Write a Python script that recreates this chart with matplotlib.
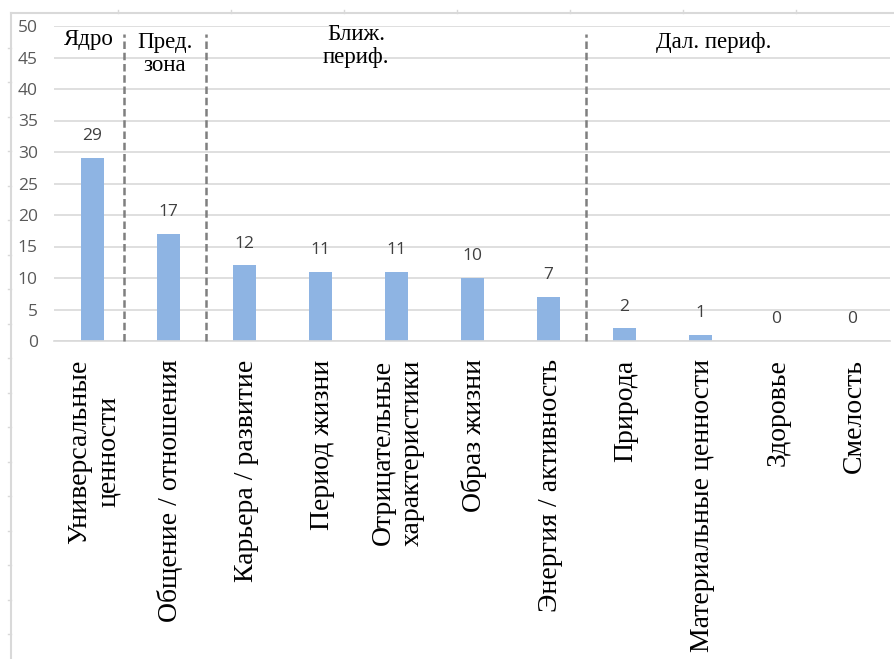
import matplotlib.pyplot as plt
from matplotlib.lines import Line2D

categories = ['Универсальные\nценности', 'Общение / отношения', 'Карьера / развитие',
              'Период жизни', 'Отрицательные\nхарактеристики', 'Образ жизни',
              'Энергия / активность', 'Природа', 'Материальные ценности',
              'Здоровье', 'Смелость']
counts = [29, 17, 12, 11, 11, 10, 7, 2, 1, 0, 0]
yticks = [0, 5, 10, 15, 20, 25, 30, 35, 40, 45, 50]

# zone captions: text, x position (category units), top y
zones = [('Ядро', -0.05, 49.6), ('Пред.\nзона', 0.95, 49.0),
         ('Ближ.\nпериф.', 3.47, 50.3), ('Дал. периф.', 8.18, 49.1)]
dividers = [0.42, 1.5, 6.5]

BAR = '#8eb4e3'
GRID = '#d9d9d9'
SERIF = 'Liberation Serif'
SANS = 'Open Sans'

W, H = 895, 659
fig = plt.figure(figsize=(W / 100, H / 100), dpi=100)
ax = fig.add_axes([54.5 / W, 1 - 341 / H, 836 / W, 315 / H])

x = range(len(categories))
bars = ax.bar(x, counts, width=0.3, color=BAR, zorder=2)
ax.set_xlim(-0.5, len(categories) - 0.5)
ax.set_ylim(0, 50)
ax.set_yticks(yticks)
ax.yaxis.grid(True, color=GRID, lw=1.2, zorder=0)
ax.tick_params(axis='y', length=0, pad=12, labelsize=12.5, labelcolor='#595959')
for lbl in ax.get_yticklabels():
    lbl.set_family(SANS)
ax.set_xticks([])
for s in ['top', 'left', 'right']:
    ax.spines[s].set_visible(False)
ax.spines['bottom'].set_color(GRID)
ax.spines['bottom'].set_linewidth(1.2)

# value labels above bars
for xi, v in zip(x, counts):
    ax.annotate(str(v), (xi, v), xytext=(0, 10), textcoords='offset points',
                ha='center', va='bottom', fontsize=12.5, color='#404040', family=SANS)

# category names under the axis
for xi, name in zip(x, categories):
    ax.text(xi + 0.02, -2.9, name, rotation=90, ha='center', va='top',
            multialignment='center', fontsize=20, family=SERIF, color='black',
            linespacing=1.22)

# zone dividers and captions
for d in dividers:
    ax.plot([d, d], [0, 48.8], ls=(0, (3, 1.5)), color='#7f7f7f', lw=1.8,
            zorder=3, clip_on=False)
for text, zx, zy in zones:
    ax.text(zx, zy, text, ha='center', va='top', fontsize=16.5, family=SERIF,
            color='black', linespacing=1.1)

# sheet border with ruler ticks
fx = lambda px: px / W
fy = lambda py: 1 - py / H
fig.add_artist(Line2D([fx(11), fx(11)], [fy(13), 0], color=GRID, lw=1.5))
fig.add_artist(Line2D([fx(11), 1], [fy(13), fy(13)], color=GRID, lw=1.5))
py = 13 + 34.5
while py < H:
    fig.add_artist(Line2D([fx(8), fx(11)], [fy(py), fy(py)], color=GRID, lw=1))
    py += 34.5
px = 118
while px < W:
    fig.add_artist(Line2D([fx(px), fx(px)], [fy(10), fy(13)], color=GRID, lw=1))
    px += 113

fig.savefig('out.png', dpi=100)
